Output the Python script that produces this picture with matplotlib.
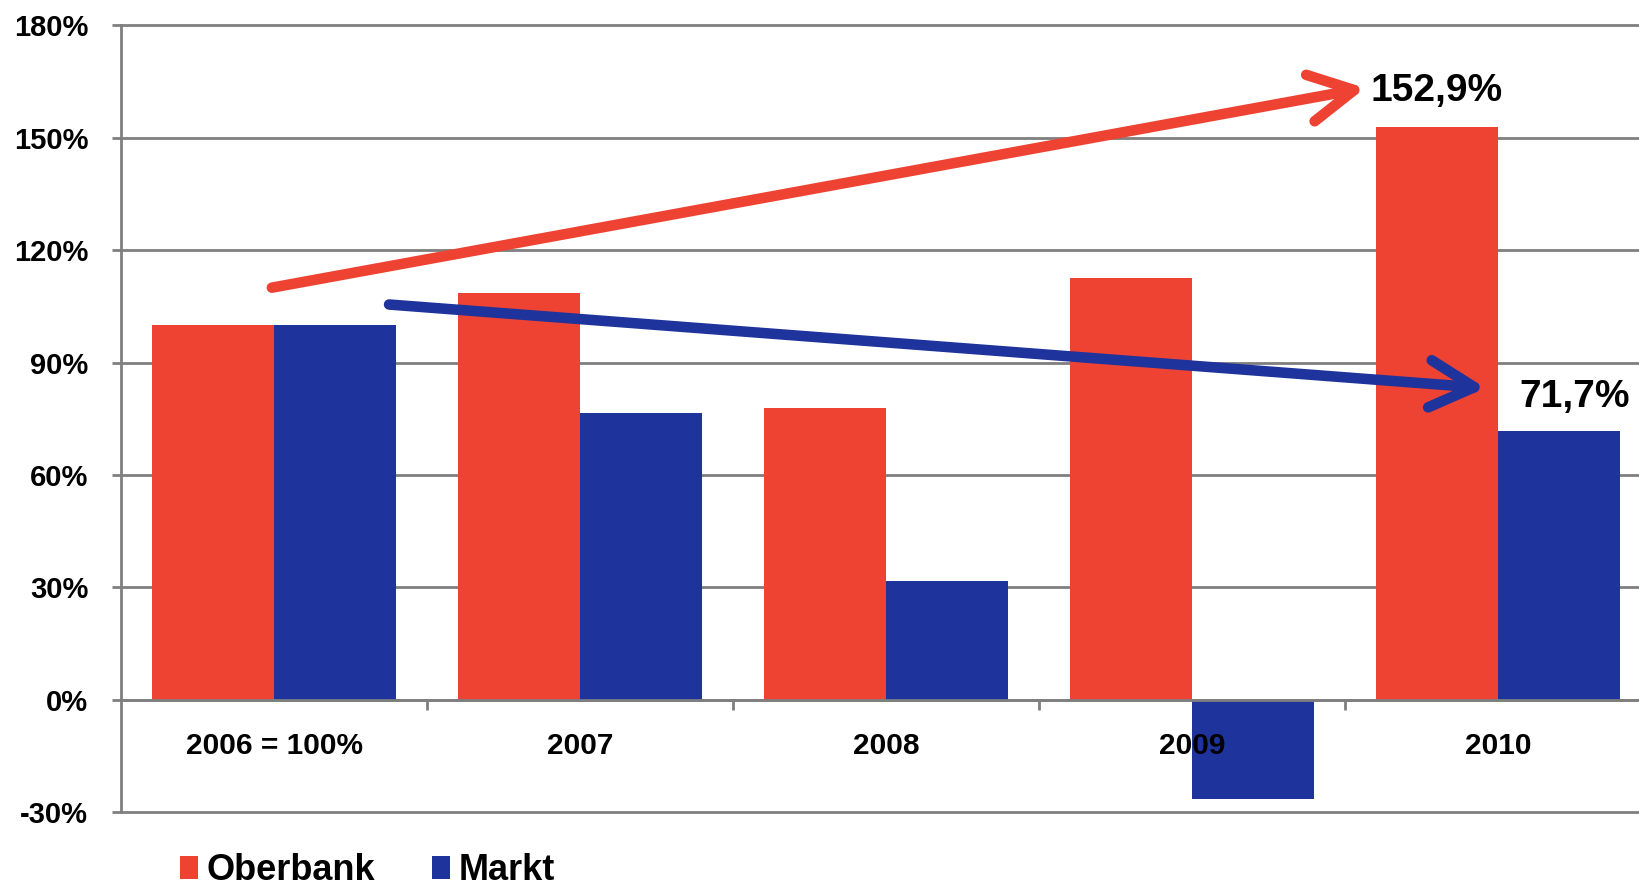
import matplotlib
matplotlib.use("Agg")
import matplotlib.pyplot as plt
import numpy as np
from matplotlib.ticker import FixedLocator

plt.rcParams['font.family'] = ['Liberation Sans', 'DejaVu Sans']

categories = ["2006 = 100%", "2007", "2008", "2009", "2010"]
oberbank = [100.0, 108.6, 77.9, 112.5, 152.9]
markt = [100.0, 76.5, 31.8, -26.5, 71.7]
yticks = [-30, 0, 30, 60, 90, 120, 150, 180]
ytick_labels = ["-30%", "0%", "30%", "60%", "90%", "120%", "150%", "180%"]
series_names = ["Oberbank", "Markt"]
label_oberbank = "152,9%"
label_markt = "71,7%"

RED = "#EE4232"
BLUE = "#1F339C"
GREY = "#7F7F7F"

fig = plt.figure(figsize=(16.39, 8.90), dpi=100)
ax = fig.add_axes([121/1639, 78/890, 1530/1639, (812-25.5)/890])

ax.spines['top'].set_visible(False)
ax.spines['right'].set_visible(False)
ax.spines['bottom'].set_position(('data', 0))
ax.spines['bottom'].set_color(GREY)
ax.spines['bottom'].set_linewidth(2)
ax.spines['left'].set_color(GREY)
ax.spines['left'].set_linewidth(2)

x = np.arange(len(categories))
w = 0.4
b1 = ax.bar(x - w/2, oberbank, w, color=RED, zorder=1, label=series_names[0])
b2 = ax.bar(x + w/2, markt, w, color=BLUE, zorder=1, label=series_names[1])

for yv in yticks:
    ax.axhline(yv, color=GREY, lw=2.0, zorder=0.5, clip_on=False)

ax.set_xlim(-0.5, 4.5)
ax.set_ylim(-30, 180)

ax.set_yticks(yticks)
ax.set_yticklabels(ytick_labels)
ax.set_xticks(x)
ax.xaxis.set_minor_locator(FixedLocator(x[:-1] + 0.5))
ax.set_xticklabels(categories)

ax.tick_params(axis='y', length=6.5, width=2, color=GREY, pad=17, direction='out',
               labelsize=21)
ax.tick_params(axis='x', which='major', length=0, pad=23, labelsize=21.5)
ax.tick_params(axis='x', which='minor', length=7.5, width=2, color=GREY, direction='out')
for lab in ax.get_xticklabels() + ax.get_yticklabels():
    lab.set_fontweight('bold')

# trend arrows
arrow_style = '->,head_length=1.6,head_width=0.85'
ax.annotate('', xy=(3.566, 163.3), xytext=(-0.007, 110.0),
            arrowprops=dict(arrowstyle=arrow_style,
                            color=RED, lw=7.6, mutation_scale=20,
                            shrinkA=0, shrinkB=0, capstyle='round', joinstyle='round'),
            zorder=3)
ax.annotate('', xy=(3.959, 83.2), xytext=(0.376, 105.5),
            arrowprops=dict(arrowstyle=arrow_style,
                            color=BLUE, lw=7.6, mutation_scale=20,
                            shrinkA=0, shrinkB=0, capstyle='round', joinstyle='round'),
            zorder=3)

ax.text(x[4] - w/2, oberbank[4] + 9.5, label_oberbank, ha='center', va='center',
        fontsize=28, fontweight='bold', zorder=4)
ax.text(x[4] + w/2 + 0.05, markt[4] + 9.2, label_markt, ha='center', va='center',
        fontsize=28, fontweight='bold', zorder=4)

fig.legend(handles=[b1, b2], labels=series_names, loc='center left',
           bbox_to_anchor=(180/1639, 19/890), ncol=2, frameon=False,
           prop={'weight': 'bold', 'size': 26},
           handlelength=0.5, handleheight=0.6, handletextpad=0.22,
           columnspacing=1.6, borderpad=0, borderaxespad=0)

fig.savefig("out.png", dpi=100)
